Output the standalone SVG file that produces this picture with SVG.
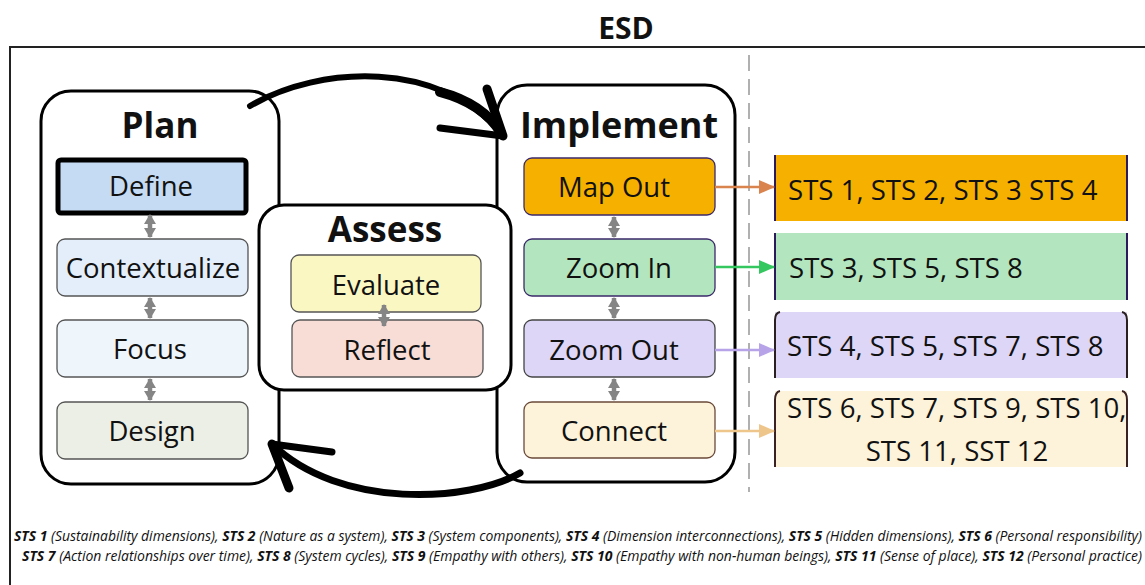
<svg xmlns="http://www.w3.org/2000/svg" width="1145" height="585" viewBox="0 0 1145 585">
<style>
text{font-family:"Open Sans","Noto Sans","Liberation Sans",sans-serif;fill:#111}
.title{font-weight:700;font-size:35px;text-anchor:middle}
.lbl{font-size:27.5px;text-anchor:middle}
.sts{font-size:27.6px}
.grp{fill:#fff;stroke:#000;stroke-width:3}
.sub{stroke-width:1.3}
.dbl{stroke:#858585;stroke-width:4.5;fill:none;marker-start:url(#gh);marker-end:url(#gh)}
.brush{fill:none;stroke:#000;stroke-linecap:round;stroke-linejoin:round}
.foot{font-size:14px;font-style:italic}
.foot tspan.b{font-weight:700}
</style>
<defs>
<marker id="gh" markerUnits="userSpaceOnUse" markerWidth="12" markerHeight="12" refX="9" refY="6" orient="auto-start-reverse"><path d="M0,0 L10,6 L0,12 z" fill="#858585"/></marker>
<marker id="ho" markerUnits="userSpaceOnUse" markerWidth="16" markerHeight="14" refX="15" refY="7" orient="auto"><path d="M0,0 L16,7 L0,14 z" fill="#d9844e"/></marker>
<marker id="hg" markerUnits="userSpaceOnUse" markerWidth="16" markerHeight="14" refX="15" refY="7" orient="auto"><path d="M0,0 L16,7 L0,14 z" fill="#35c75f"/></marker>
<marker id="hp" markerUnits="userSpaceOnUse" markerWidth="16" markerHeight="14" refX="15" refY="7" orient="auto"><path d="M0,0 L16,7 L0,14 z" fill="#b6a3e8"/></marker>
<marker id="hy" markerUnits="userSpaceOnUse" markerWidth="16" markerHeight="14" refX="15" refY="7" orient="auto"><path d="M0,0 L16,7 L0,14 z" fill="#eec68c"/></marker>
</defs>
<rect x="0" y="0" width="1145" height="585" fill="#fff"/>
<g id="frame">
<rect x="10" y="47" width="1200" height="600" fill="none" stroke="#222" stroke-width="2"/>
<text x="626" y="39" style="font-weight:700;font-size:30px;text-anchor:middle">ESD</text>
<line x1="749" y1="55" x2="749" y2="492" stroke="#b0b0b0" stroke-width="2" stroke-dasharray="16 8"/>
</g>
<g id="plan">
<rect class="grp" x="41" y="91" width="238" height="393" rx="30"/>
<text class="title" x="160" y="138">Plan</text>
</g>
<g id="implement">
<rect class="grp" x="497" y="85" width="238" height="397" rx="30"/>
<text class="title" x="619" y="138" style="font-size:36px">Implement</text>
</g>
<g id="assess">
<rect class="grp" x="259" y="205" width="252" height="185" rx="25"/>
<text class="title" x="385" y="242">Assess</text>
</g>
<g id="define"><rect x="58" y="160" width="188" height="53" rx="3" fill="#c5dbf3" stroke="#000" stroke-width="5"/><text class="lbl" x="151" y="196">Define</text></g>
<g id="contextualize"><rect class="sub" x="57" y="239" width="191" height="57" rx="8" fill="#e3eefa" stroke="#555"/><text class="lbl" x="153" y="278">Contextualize</text></g>
<g id="focus"><rect class="sub" x="57" y="320" width="191" height="57" rx="8" fill="#eef5fb" stroke="#555"/><text class="lbl" x="150" y="359">Focus</text></g>
<g id="design"><rect class="sub" x="57" y="402" width="191" height="57" rx="8" fill="#ebefe5" stroke="#555"/><text class="lbl" x="152" y="441">Design</text></g>
<g id="evaluate"><rect class="sub" x="291" y="255" width="190" height="57" rx="8" fill="#fbf7c3" stroke="#555"/><text class="lbl" x="386" y="295">Evaluate</text></g>
<g id="reflect"><rect class="sub" x="292" y="320" width="191" height="57" rx="8" fill="#f8ddd7" stroke="#555"/><text class="lbl" x="387" y="360">Reflect</text></g>
<g id="mapout"><rect class="sub" x="524" y="158" width="191" height="57" rx="8" fill="#f5b000" stroke="#3b2a6b"/><text class="lbl" x="614" y="197">Map Out</text></g>
<g id="zoomin"><rect class="sub" x="524" y="239" width="191" height="57" rx="8" fill="#b3e6bf" stroke="#3b2a6b"/><text class="lbl" x="619" y="278">Zoom In</text></g>
<g id="zoomout"><rect class="sub" x="524" y="320" width="191" height="57" rx="8" fill="#ddd6f6" stroke="#444"/><text class="lbl" x="614" y="360">Zoom Out</text></g>
<g id="connect"><rect class="sub" x="524" y="402" width="191" height="56" rx="8" fill="#fdf3da" stroke="#6b4a3a"/><text class="lbl" x="614" y="441">Connect</text></g>
<g id="sts-mapout">
<rect x="775" y="155" width="352" height="66" fill="#f5b000"/>
<path d="M775,155 V221 M1127,155 V221" stroke="#2b1b5c" stroke-width="2"/>
<text class="sts" x="788" y="200">STS 1, STS 2, STS 3 STS 4</text>
</g>
<g id="sts-zoomin">
<rect x="775" y="233" width="352" height="67" fill="#b3e6bf"/>
<path d="M775,233 V300 M1127,233 V300" stroke="#2b1b5c" stroke-width="2"/>
<text class="sts" x="789" y="278">STS 3, STS 5, STS 8</text>
</g>
<g id="sts-zoomout">
<rect x="775" y="312" width="352" height="66" fill="#ddd6f6"/>
<path d="M780,312 Q775,313 775,320 V378 M1122,312 Q1127,313 1127,320 V378" stroke="#2a2020" stroke-width="2" fill="none"/>
<text class="sts" x="787" y="356">STS 4, STS 5, STS 7, STS 8</text>
</g>
<g id="sts-connect">
<rect x="775" y="391" width="352" height="76" fill="#fdf3da"/>
<path d="M780,391 Q775,392 775,400 V467 M1122,391 Q1127,392 1127,400 V467" stroke="#3a2222" stroke-width="2" fill="none"/>
<text class="sts" x="787" y="418">STS 6, STS 7, STS 9, STS 10,</text>
<text class="sts" x="957" y="461" text-anchor="middle">STS 11, SST 12</text>
</g>
<g id="connectors">
<line class="dbl" x1="150" y1="215" x2="150" y2="237"/>
<line class="dbl" x1="150" y1="298" x2="150" y2="318"/>
<line class="dbl" x1="150" y1="379" x2="150" y2="400"/>
<line class="dbl" x1="384" y1="305" x2="384" y2="326"/>
<line class="dbl" x1="614" y1="217" x2="614" y2="237"/>
<line class="dbl" x1="614" y1="298" x2="614" y2="318"/>
<line class="dbl" x1="614" y1="379" x2="614" y2="400"/>
<line x1="715" y1="187" x2="774" y2="187" stroke="#d9844e" stroke-width="2.5" marker-end="url(#ho)"/>
<line x1="715" y1="267" x2="774" y2="267" stroke="#35c75f" stroke-width="2.5" marker-end="url(#hg)"/>
<line x1="715" y1="350" x2="774" y2="350" stroke="#b6a3e8" stroke-width="2.5" marker-end="url(#hp)"/>
<line x1="715" y1="431" x2="774" y2="431" stroke="#eec68c" stroke-width="2.5" marker-end="url(#hy)"/>
<path class="brush" d="M250,106 C320,65 440,60 501,133" stroke-width="6"/>
<path class="brush" d="M440,92 C470,100 490,115 501,133" stroke-width="10"/>
<path class="brush" d="M503,136 L487,89" stroke-width="9"/>
<path class="brush" d="M503,136 L440,128" stroke-width="7"/>
<path class="brush" d="M520,473 C470,502 340,510 272,444" stroke-width="7"/>
<path class="brush" d="M272,444 L332,452" stroke-width="7"/>
<path class="brush" d="M272,444 L289,488" stroke-width="9"/>
</g>
<g id="footnote">
<text class="foot" x="14" y="541" textLength="1128" lengthAdjust="spacingAndGlyphs"><tspan class="b">STS 1</tspan> (Sustainability dimensions), <tspan class="b">STS 2</tspan> (Nature as a system), <tspan class="b">STS 3</tspan> (System components), <tspan class="b">STS 4</tspan> (Dimension interconnections), <tspan class="b">STS 5</tspan> (Hidden dimensions), <tspan class="b">STS 6</tspan> (Personal responsibility)</text>
<text class="foot" x="22" y="561" textLength="1120" lengthAdjust="spacingAndGlyphs"><tspan class="b">STS 7</tspan> (Action relationships over time), <tspan class="b">STS 8</tspan> (System cycles), <tspan class="b">STS 9</tspan> (Empathy with others), <tspan class="b">STS 10</tspan> (Empathy with non-human beings), <tspan class="b">STS 11</tspan> (Sense of place), <tspan class="b">STS 12</tspan> (Personal practice)</text>
</g>
</svg>
